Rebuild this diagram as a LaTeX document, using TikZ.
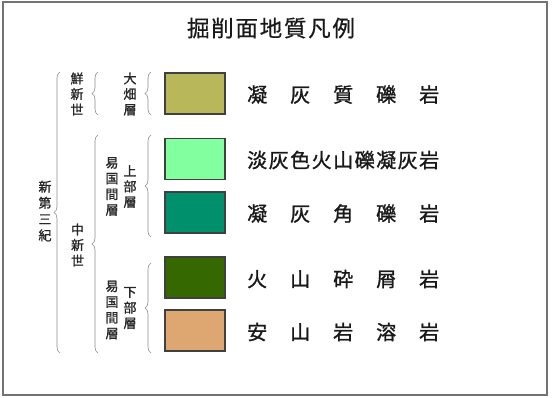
\documentclass[tikz,border=0pt]{standalone}
\usepackage{fontspec}
\setmainfont{Noto Sans CJK JP}
\newfontfamily\heavycjk[FakeBold=1.2]{Noto Sans CJK JP}
\newfontfamily\titlecjk[FakeBold=0.6]{Noto Sans CJK JP}
\usetikzlibrary{decorations.pathreplacing}

\begin{document}
\begin{tikzpicture}[
    x=1pt, y=-1pt,
    legend/.style={rectangle, draw=black!75, line width=1.2pt, minimum width=60pt, minimum height=41pt, inner sep=0pt},
    rock/.style={anchor=west, inner sep=0pt, font=\heavycjk\fontsize{20}{22}\selectfont, text=black!90},
    vlabel/.style={align=center, inner sep=0pt, font=\heavycjk\fontsize{13}{15.5}\selectfont, text=black!85},
    curly/.style={draw=black!45, line width=0.6pt, decorate, decoration={brace, amplitude=6pt}}
]
\useasboundingbox (0,0) rectangle (552,397);

% Frame
\draw[black!55, line width=2pt] (3,2) rectangle (547,395);

% Title
\node (title) at (271,28) [font=\titlecjk\fontsize{22.5}{26}\selectfont, text=black!90] {\makebox[168pt][s]{掘\hfill 削\hfill 面\hfill 地\hfill 質\hfill 凡\hfill 例}};

% Row 1: Ohata formation
\node (cgl) at (195,93.5) [legend, fill={rgb,255:red,184;green,184;blue,90}] {};
\node (cgltext) at (247,94.5) [rock] {\makebox[192pt][s]{凝\hfill 灰\hfill 質\hfill 礫\hfill 岩}};

% Row 2: upper Ikokuma formation
\node (lapilli) at (195,159) [legend, fill={rgb,255:red,130;green,255;blue,158}] {};
\node (lapillitext) at (247,160) [rock] {\makebox[192pt][s]{淡\hfill 灰\hfill 色\hfill 火\hfill 山\hfill 礫\hfill 凝\hfill 灰\hfill 岩}};

% Row 3
\node (breccia) at (195,212.5) [legend, fill={rgb,255:red,0;green,145;blue,108}] {};
\node (brecciatext) at (247,213.5) [rock] {\makebox[192pt][s]{凝\hfill 灰\hfill 角\hfill 礫\hfill 岩}};

% Row 4: lower Ikokuma formation
\node (pyro) at (195,277.5) [legend, fill={rgb,255:red,54;green,104;blue,0}] {};
\node (pyrotext) at (247,279) [rock] {\makebox[192pt][s]{火\hfill 山\hfill 砕\hfill 屑\hfill 岩}};

% Row 5
\node (lava) at (195,330.5) [legend, fill={rgb,255:red,222;green,166;blue,112}] {};
\node (lavatext) at (247,332) [rock] {\makebox[192pt][s]{安\hfill 山\hfill 岩\hfill 溶\hfill 岩}};

% Era and formation labels
\node (neogene) at (45,211) [vlabel, font=\heavycjk\fontsize{13}{16.25}\selectfont] {新\\第\\三\\紀};
\node (pliocene) at (77,94) [vlabel] {鮮\\新\\世};
\node (miocene) at (77.5,245) [vlabel] {中\\新\\世};
\node (ohata) at (130,94) [vlabel] {大\\畑\\層};
\node (upperfm) at (112,186.5) [vlabel, font=\heavycjk\fontsize{13}{15.75}\selectfont] {易\\国\\間\\層};
\node (upper) at (130,186.5) [vlabel] {上\\部\\層};
\node (lowerfm) at (112,310) [vlabel, font=\heavycjk\fontsize{13}{15.75}\selectfont] {易\\国\\間\\層};
\node (lower) at (130,308) [vlabel] {下\\部\\層};

% Brace ends
\coordinate (neogenetop) at (60,72);
\coordinate (neogenebot) at (60,353);
\coordinate (pliocenetop) at (98,72);
\coordinate (pliocenebot) at (98,115);
\coordinate (miocenetop) at (98,135);
\coordinate (miocenebot) at (98,353);
\coordinate (ohatatop) at (151,72);
\coordinate (ohatabot) at (151,115);
\coordinate (uppertop) at (151,135);
\coordinate (upperbot) at (151,237);
\coordinate (lowertop) at (151,263);
\coordinate (lowerbot) at (151,353);

% Braces
\draw[curly] (neogenebot) -- (neogenetop);
\draw[curly] (pliocenebot) -- (pliocenetop);
\draw[curly] (miocenebot) -- (miocenetop);
\draw[curly] (ohatabot) -- (ohatatop);
\draw[curly] (upperbot) -- (uppertop);
\draw[curly] (lowerbot) -- (lowertop);

\end{tikzpicture}
\end{document}
